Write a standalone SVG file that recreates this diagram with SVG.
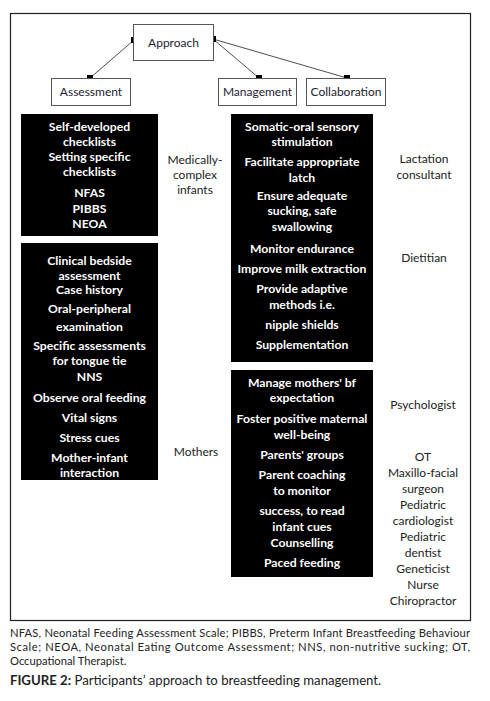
<svg xmlns="http://www.w3.org/2000/svg" width="490" height="701" viewBox="0 0 490 701">
<style>
.frame{fill:none;stroke:#222;stroke-width:1.2}
.nbox{fill:#fff;stroke:#555;stroke-width:1}
.nlabel{font-family:Lato,"Open Sans",sans-serif;font-size:12px;fill:#1c1c30;text-anchor:middle}
.blk{fill:#000}
.wt{font-family:Lato,"Open Sans",sans-serif;font-size:12.2px;font-weight:bold;fill:#fff;text-anchor:middle}
.lab{font-family:Lato,"Open Sans",sans-serif;font-size:12px;fill:#222;text-anchor:middle}
.conn{stroke:#222;stroke-width:0.8;fill:none}
.h{fill:#000}
.foot{font-family:Lato,"Open Sans",sans-serif;font-size:11.2px;fill:#222}
.cap{font-family:Lato,"Open Sans",sans-serif;font-size:13.2px;fill:#222}
</style>
<rect class="frame" x="10.5" y="13.5" width="460" height="607"/>
<g id="connectors">
<line class="conn" x1="134" y1="40" x2="90" y2="78"/>
<line class="conn" x1="213" y1="39" x2="259" y2="78"/>
<line class="conn" x1="213" y1="39" x2="347" y2="78"/>
<rect class="h" x="131" y="37" width="6" height="6"/>
<rect class="h" x="210" y="36" width="6" height="6"/>
<rect class="h" x="87" y="75" width="6" height="6"/>
<rect class="h" x="256" y="75" width="6" height="6"/>
<rect class="h" x="344" y="75" width="6" height="6"/>
</g>
<g id="approach">
<rect class="nbox" x="133.5" y="24.5" width="80" height="36"/>
<text class="nlabel" x="173.5" y="47">Approach</text>
</g>
<g id="assessment">
<rect class="nbox" x="51.5" y="78.5" width="79" height="27"/>
<text class="nlabel" x="91" y="96">Assessment</text>
</g>
<g id="management">
<rect class="nbox" x="218.5" y="78.5" width="78" height="27"/>
<text class="nlabel" x="257.5" y="96">Management</text>
</g>
<g id="collaboration">
<rect class="nbox" x="306.5" y="78.5" width="79" height="27"/>
<text class="nlabel" x="346" y="96">Collaboration</text>
</g>
<g id="assess-infants">
<rect class="blk" x="21" y="114" width="137" height="122"/>
<text class="wt" x="89.5" y="131">Self-developed</text>
<text class="wt" x="89.5" y="146">checklists</text>
<text class="wt" x="89.5" y="161">Setting specific</text>
<text class="wt" x="89.5" y="176">checklists</text>
<text class="wt" x="89.5" y="197">NFAS</text>
<text class="wt" x="89.5" y="213">PIBBS</text>
<text class="wt" x="89.5" y="228">NEOA</text>
</g>
<g id="assess-mothers">
<rect class="blk" x="21" y="243" width="137" height="237"/>
<text class="wt" x="89.5" y="265">Clinical bedside</text>
<text class="wt" x="89.5" y="280">assessment</text>
<text class="wt" x="89.5" y="294">Case history</text>
<text class="wt" x="89.5" y="313">Oral-peripheral</text>
<text class="wt" x="89.5" y="331">examination</text>
<text class="wt" x="89.5" y="350">Specific assessments</text>
<text class="wt" x="89.5" y="365">for tongue tie</text>
<text class="wt" x="89.5" y="381">NNS</text>
<text class="wt" x="89.5" y="402">Observe oral feeding</text>
<text class="wt" x="89.5" y="422">Vital signs</text>
<text class="wt" x="89.5" y="442">Stress cues</text>
<text class="wt" x="89.5" y="462">Mother-infant</text>
<text class="wt" x="89.5" y="477">interaction</text>
</g>
<g id="label-infants">
<text class="lab" x="195" y="164">Medically-</text>
<text class="lab" x="195" y="179">complex</text>
<text class="lab" x="195" y="194">infants</text>
</g>
<g id="label-mothers">
<text class="lab" x="196" y="456">Mothers</text>
</g>
<g id="manage-infants">
<rect class="blk" x="231" y="114" width="142" height="248"/>
<text class="wt" x="302" y="131">Somatic-oral sensory</text>
<text class="wt" x="302" y="146">stimulation</text>
<text class="wt" x="302" y="166">Facilitate appropriate</text>
<text class="wt" x="302" y="182">latch</text>
<text class="wt" x="302" y="200">Ensure adequate</text>
<text class="wt" x="302" y="215">sucking, safe</text>
<text class="wt" x="302" y="231">swallowing</text>
<text class="wt" x="302" y="253">Monitor endurance</text>
<text class="wt" x="302" y="273">Improve milk extraction</text>
<text class="wt" x="302" y="293">Provide adaptive</text>
<text class="wt" x="302" y="309">methods i.e.</text>
<text class="wt" x="302" y="329">nipple shields</text>
<text class="wt" x="302" y="349">Supplementation</text>
</g>
<g id="manage-mothers">
<rect class="blk" x="231" y="370" width="142" height="207"/>
<text class="wt" x="302" y="387">Manage mothers' bf</text>
<text class="wt" x="302" y="402">expectation</text>
<text class="wt" x="302" y="423">Foster positive maternal</text>
<text class="wt" x="302" y="439">well-being</text>
<text class="wt" x="302" y="459">Parents' groups</text>
<text class="wt" x="302" y="479">Parent coaching</text>
<text class="wt" x="302" y="495">to monitor</text>
<text class="wt" x="302" y="515">success, to read</text>
<text class="wt" x="302" y="531">infant cues</text>
<text class="wt" x="302" y="547">Counselling</text>
<text class="wt" x="302" y="567">Paced feeding</text>
</g>
<g id="collab-infants">
<text class="lab" x="424" y="163">Lactation</text>
<text class="lab" x="424" y="179">consultant</text>
<text class="lab" x="424" y="262">Dietitian</text>
</g>
<g id="collab-mothers">
<text class="lab" x="423" y="409">Psychologist</text>
<text class="lab" x="423" y="461">OT</text>
<text class="lab" x="423" y="477">Maxillo-facial</text>
<text class="lab" x="423" y="493">surgeon</text>
<text class="lab" x="423" y="509">Pediatric</text>
<text class="lab" x="423" y="525">cardiologist</text>
<text class="lab" x="423" y="541">Pediatric</text>
<text class="lab" x="423" y="557">dentist</text>
<text class="lab" x="423" y="573">Geneticist</text>
<text class="lab" x="423" y="589">Nurse</text>
<text class="lab" x="423" y="605">Chiropractor</text>
</g>
<g id="footnote">
<text class="foot" x="10" y="637" textLength="460" lengthAdjust="spacing">NFAS, Neonatal Feeding Assessment Scale; PIBBS, Preterm Infant Breastfeeding Behaviour</text>
<text class="foot" x="10" y="651" textLength="460" lengthAdjust="spacing">Scale; NEOA, Neonatal Eating Outcome Assessment; NNS, non-nutritive sucking; OT,</text>
<text class="foot" x="10" y="665">Occupational Therapist.</text>
<text class="cap" x="10" y="685"><tspan font-weight="bold">FIGURE 2:</tspan> Participants’ approach to breastfeeding management.</text>
</g>
</svg>
